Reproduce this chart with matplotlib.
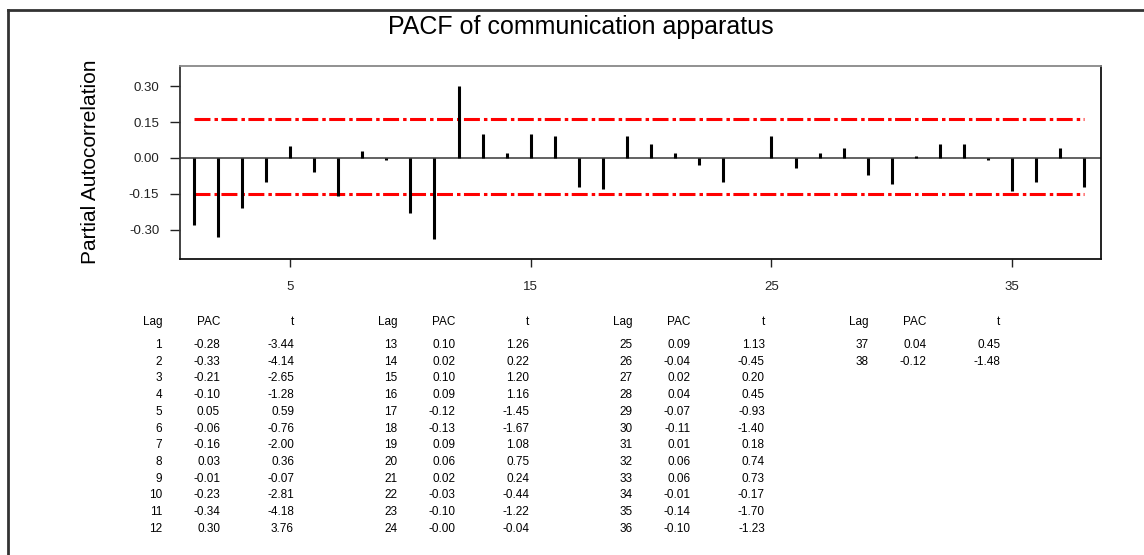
import numpy as np
import matplotlib.pyplot as plt
from matplotlib.lines import Line2D

plt.rcParams['font.family'] = ['Liberation Sans', 'DejaVu Sans']
plt.rcParams['lines.scale_dashes'] = False

# partial autocorrelations
lags = list(range(1, 39))
pac = [-0.28, -0.33, -0.21, -0.10, 0.05, -0.06, -0.16, 0.03, -0.01, -0.23, -0.34, 0.30,
       0.10, 0.02, 0.10, 0.09, -0.12, -0.13, 0.09, 0.06, 0.02, -0.03, -0.10, -0.00,
       0.09, -0.04, 0.02, 0.04, -0.07, -0.11, 0.01, 0.06, 0.06, -0.01, -0.14, -0.10,
       0.04, -0.12]
t_stat = [-3.44, -4.14, -2.65, -1.28, 0.59, -0.76, -2.00, 0.36, -0.07, -2.81, -4.18, 3.76,
          1.26, 0.22, 1.20, 1.16, -1.45, -1.67, 1.08, 0.75, 0.24, -0.44, -1.22, -0.04,
          1.13, -0.45, 0.20, 0.45, -0.93, -1.40, 0.18, 0.74, 0.73, -0.17, -1.70, -1.23,
          0.45, -1.48]
conf_upper = 0.165
conf_lower = -0.150
xticks = [5, 15, 25, 35]
yticks = [-0.30, -0.15, 0.00, 0.15, 0.30]

W, H = 1144, 555
fig = plt.figure(figsize=(W / 100, H / 100), dpi=100)


def fx(px):
    return px / W


def fy(py):
    return 1 - py / H


ax = fig.add_axes([fx(180), fy(259), fx(1101) - fx(180), fy(66) - fy(259)])
ax.axhline(0, color='#555555', lw=1.3, zorder=1)
ax.vlines(lags, 0, pac, color='black', lw=2.2, zorder=3)
dash = (11.5, 2.9, 2.5, 2.5)
ax.plot([lags[0], lags[-1]], [conf_upper] * 2, color='red', lw=2.2, dashes=dash, zorder=2)
ax.plot([lags[0], lags[-1]], [conf_lower] * 2, color='red', lw=2.2, dashes=dash, zorder=2)

ax.set_xlim(0.43, 38.69)
ax.set_ylim(-0.423, 0.385)
ax.set_xticks(xticks)
ax.set_yticks(yticks)
ax.set_yticklabels([f'{v:.2f}' for v in yticks])
ax.tick_params(axis='y', direction='out', length=7, width=1, pad=8, labelsize=9.5, colors='#222222')
ax.tick_params(axis='x', direction='out', length=6, width=1, pad=10, labelsize=9.5, colors='#222222')
ax.spines['top'].set_color('#888888')
ax.spines['right'].set_color('#111111')
ax.spines['left'].set_color('#333333')
ax.spines['bottom'].set_color('#111111')
for s in ax.spines.values():
    s.set_linewidth(1.3)

fig.text(fx(581), fy(27), 'PACF of communication apparatus', ha='center', va='center', fontsize=18)
fig.text(fx(90), fy(162), 'Partial Autocorrelation', ha='center', va='center',
         rotation=90, fontsize=15)

# table of values, four groups of 12 lags
for g in range(4):
    base = 162 + g * 235.4
    fig.text(fx(base), fy(322), 'Lag', ha='right', va='center', fontsize=8.5)
    fig.text(fx(base + 58), fy(322), 'PAC', ha='right', va='center', fontsize=8.5)
    fig.text(fx(base + 132), fy(322), 't', ha='right', va='center', fontsize=8.5)
    for r, i in enumerate(range(g * 12, min(g * 12 + 12, len(lags)))):
        y = fy(345 + r * 16.7)
        fig.text(fx(base), y, str(lags[i]), ha='right', va='center', fontsize=8.5)
        fig.text(fx(base + 58), y, f'{pac[i]:.2f}', ha='right', va='center', fontsize=8.5)
        fig.text(fx(base + 132), y, f'{t_stat[i]:.2f}', ha='right', va='center', fontsize=8.5)

# outer frame (only top and left edges show in the picture)
fig.add_artist(Line2D([fx(8), 1], [fy(10), fy(10)], transform=fig.transFigure, color='#333333', lw=2))
fig.add_artist(Line2D([fx(8), fx(8)], [fy(10), 0], transform=fig.transFigure, color='#333333', lw=2))

fig.savefig('out.png', dpi=100)
